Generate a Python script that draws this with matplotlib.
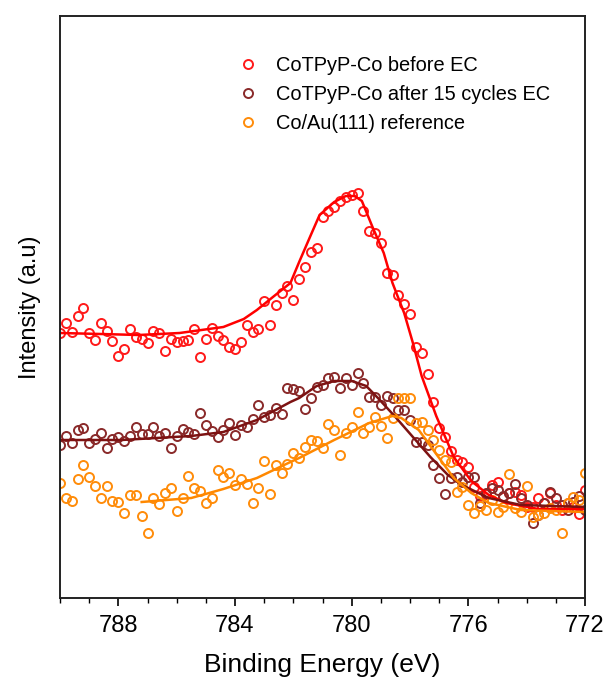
import matplotlib
matplotlib.use("Agg")
import matplotlib.pyplot as plt
from matplotlib.ticker import MultipleLocator

plt.rcParams['font.family'] = ['Liberation Sans', 'DejaVu Sans']

# binding energy grid (eV), 0.2 eV steps from 790 down to 772
energy = [790.0, 789.8, 789.6, 789.4, 789.2, 789.0, 788.8, 788.6, 788.4, 788.2,
          788.0, 787.8, 787.6, 787.4, 787.2, 787.0, 786.8, 786.6, 786.4, 786.2,
          786.0, 785.8, 785.6, 785.4, 785.2, 785.0, 784.8, 784.6, 784.4, 784.2,
          784.0, 783.8, 783.6, 783.4, 783.2, 783.0, 782.8, 782.6, 782.4, 782.2,
          782.0, 781.8, 781.6, 781.4, 781.2, 781.0, 780.8, 780.6, 780.4, 780.2,
          780.0, 779.8, 779.6, 779.4, 779.2, 779.0, 778.8, 778.6, 778.4, 778.2,
          778.0, 777.8, 777.6, 777.4, 777.2, 777.0, 776.8, 776.6, 776.4, 776.2,
          776.0, 775.8, 775.6, 775.4, 775.2, 775.0, 774.8, 774.6, 774.4, 774.2,
          774.0, 773.8, 773.6, 773.4, 773.2, 773.0, 772.8, 772.6, 772.4, 772.2,
          772.0]

before_ec = [265, 275, 266, 282, 290, 265, 258, 275, 267, 257,
             242, 249, 269, 261, 259, 255, 267, 265, 247, 259,
             256, 257, 258, 269, 241, 259, 270, 262, 258, 251,
             249, 256, 273, 266, 269, 297, 273, 293, 305, 312,
             298, 319, 331, 346, 350, 381, 387, 391, 397, 401,
             403, 405, 387, 367, 365, 355, 325, 323, 303, 294,
             284, 251, 245, 224, 196, 170, 161, 147, 138, 136,
             131, 111, 102, 104, 113, 116, 101, 105, 106, 103,
             91, 91, 100, 95, 105, 93, 88, 95, 91, 84,
             108]

after_ec = [153, 162, 155, 168, 170, 155, 159, 165, 150, 159,
            161, 157, 162, 171, 164, 164, 171, 162, 165, 150,
            162, 169, 166, 164, 185, 173, 167, 161, 168, 175,
            163, 173, 171, 179, 193, 181, 183, 190, 184, 210,
            209, 207, 189, 200, 211, 213, 220, 221, 210, 220,
            213, 225, 215, 201, 201, 193, 202, 200, 188, 188,
            178, 156, 156, 153, 133, 120, 104, 120, 121, 116,
            121, 121, 95, 105, 110, 108, 102, 105, 114, 100,
            93, 75, 83, 95, 106, 100, 93, 88, 96, 102,
            88]

ref_energy = [790.2] + energy
reference = [131,
             115, 100, 97, 119, 133, 121, 112, 100, 112, 97,
             96, 85, 103, 103, 82, 65, 100, 94, 105, 110,
             87, 100, 122, 110, 107, 95, 100, 128, 121, 125,
             113, 119, 114, 95, 110, 137, 104, 133, 125, 134,
             145, 140, 151, 158, 157, 150, 174, 168, 143, 165,
             171, 186, 165, 171, 181, 172, 160, 180, 200, 200,
             200, 175, 176, 168, 158, 148, 138, 136, 106, 111,
             93, 85, 92, 88, 98, 86, 91, 124, 90, 86,
             112, 81, 83, 85, 90, 88, 65, 95, 101, 98,
             125]

# fitted envelopes
fit_before_e = [790.0, 788.6, 787.3, 785.9, 784.4, 783.7, 783.25, 782.7, 782.1, 781.8,
                781.4, 781.1, 780.6, 780.2, 779.9, 779.65, 779.3, 778.9, 778.6, 778.2,
                777.9, 777.6, 777.1, 776.5, 775.9, 775.3, 774.7, 773.6, 772.0]
fit_before_i = [265, 264, 263, 265, 271, 279, 288, 301, 315, 336,
                363, 383, 396, 402, 402, 397, 372, 345, 315, 285,
                255, 222, 182, 141, 117, 103, 95, 89, 89]

fit_after_e = [790.0, 787.9, 785.5, 784.4, 783.25, 782.1, 781.8, 781.2, 780.6, 780.0,
               779.5, 779.1, 778.5, 777.9, 777.3, 776.7, 776.15, 775.3, 774.2, 772.0]
fit_after_i = [158, 158, 162, 166, 178, 196, 200, 212, 217, 217,
               212, 200, 181, 161, 141, 123, 112, 100, 93, 91]

fit_ref_e = [787.2, 785.5, 784.4, 783.25, 782.1, 781.8, 780.6, 779.4, 778.6, 778.3,
             777.7, 777.1, 776.5, 775.9, 775.3, 774.2, 772.0]
fit_ref_i = [96, 100, 109, 120, 136, 140, 158, 175, 182, 180,
             168, 144, 120, 105, 95, 88, 86]

labels = ["CoTPyP-Co before EC", "CoTPyP-Co after 15 cycles EC", "Co/Au(111) reference"]
c_red = "#ff1a1a"
c_dark = "#7d1212"
c_orange = "#ff8c0a"

fig = plt.figure(figsize=(6.07, 6.8), dpi=100)
ax = fig.add_axes([60 / 607, 82 / 680, 525 / 607, 582 / 680])

mk = dict(marker='o', linestyle='none', markersize=6.5, markerfacecolor='none',
          markeredgewidth=1.4)
ax.plot(energy, before_ec, markeredgecolor=c_red, label=labels[0], **mk)
ax.plot(energy, after_ec, markeredgecolor="#8a2a2a", label=labels[1], **mk)
ax.plot(ref_energy, reference, markeredgecolor=c_orange, label=labels[2], **mk)

ax.plot(fit_before_e, fit_before_i, color="#ff0000", lw=1.8)
ax.plot(fit_after_e, fit_after_i, color=c_dark, lw=1.8)
ax.plot(fit_ref_e, fit_ref_i, color="#ff8800", lw=1.8)

ax.set_xlim(790, 772)
ax.set_ylim(0, 582)
ax.xaxis.set_major_locator(MultipleLocator(4))
ax.xaxis.set_minor_locator(MultipleLocator(1))
ax.tick_params(axis='x', which='major', direction='out', length=6, width=1.2,
               labelsize=17, pad=6)
ax.tick_params(axis='x', which='minor', direction='out', length=3.5, width=1.0)
ax.set_yticks([])
for sp in ax.spines.values():
    sp.set_linewidth(1.4)
    sp.set_color("#222222")

ax.set_xlabel("Binding Energy (eV)", fontsize=19, labelpad=12)
ax.set_ylabel("Intensity (a.u)", fontsize=17, labelpad=14)

ax.legend(loc='upper left', bbox_to_anchor=(0.305, 0.962), frameon=False,
          fontsize=14.4, handletextpad=0.9, labelspacing=0.5, handlelength=1.0)

fig.savefig("out.png", dpi=100)
